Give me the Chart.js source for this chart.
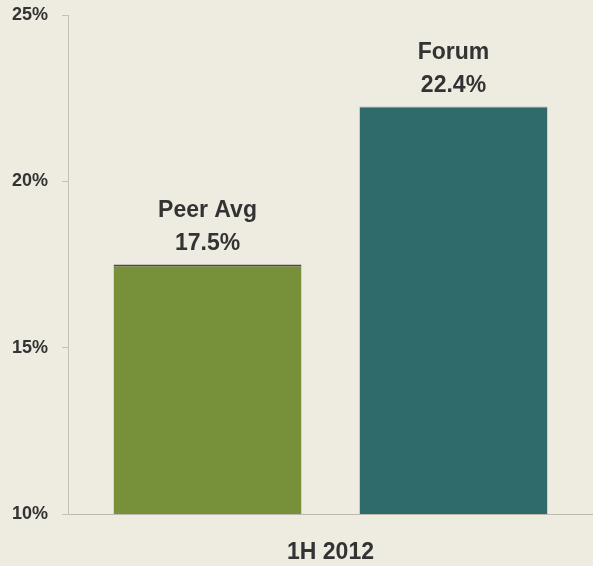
<!DOCTYPE html>
<html>
<head>
<meta charset="utf-8">
<script src="https://cdn.jsdelivr.net/npm/chart.js@4"></script>
<style>
  html, body { margin: 0; padding: 0; background: #eeebe1; }
  canvas { display: block; }
</style>
</head>
<body>
<canvas id="myChart" width="593" height="566"></canvas>
<script>
const categories = ['1H 2012'];
const seriesNames = ['Peer Avg', 'Forum'];
// bar heights as drawn in the picture (the Forum bar sits a bit below its printed label)
const peerValues = [17.5];
const forumValues = [22.25];
// printed value labels
const valueLabels = ['17.5%', '22.4%'];
const yTicks = [10, 15, 20, 25];

const FONT = '"Liberation Sans", Arial, Helvetica, sans-serif';

// labels above each bar: name and value
const barLabels = {
    id: 'barLabels',
    afterDatasetsDraw(chart) {
        const ctx = chart.ctx;
        ctx.save();
        ctx.fillStyle = '#333333';
        ctx.font = 'bold 23px ' + FONT;
        ctx.textAlign = 'center';
        ctx.textBaseline = 'middle';
        chart.data.datasets.forEach((ds, i) => {
            const meta = chart.getDatasetMeta(i);
            meta.data.forEach((bar) => {
                ctx.fillText(ds.label, bar.x, bar.y - 54);
                ctx.fillText(valueLabels[i], bar.x, bar.y - 21);
            });
        });
        ctx.restore();
    }
};

const ctx = document.getElementById('myChart').getContext('2d');
const myChart = new Chart(ctx, {
    type: 'bar',
    data: {
        labels: categories,
        datasets: [{
            label: seriesNames[0],
            data: peerValues,
            backgroundColor: '#77903a',
            borderColor: '#4b4b40',
            borderWidth: { top: 2, left: 0, right: 0, bottom: 0 },
            borderSkipped: false
        }, {
            label: seriesNames[1],
            data: forumValues,
            backgroundColor: '#2f6b6a',
            borderColor: '#9aa8a3',
            borderWidth: { top: 1, left: 0, right: 0, bottom: 0 },
            borderSkipped: false
        }]
    },
    options: {
        responsive: false,
        animation: false,
        layout: { padding: { top: 15, right: 0, left: 0, bottom: 0 } },
        datasets: {
            bar: { categoryPercentage: 0.937, barPercentage: 0.764 }
        },
        plugins: {
            legend: { display: false },
            tooltip: { enabled: false }
        },
        scales: {
            x: {
                grid: { drawOnChartArea: false, drawTicks: false },
                border: { color: '#bdb9ae', width: 1 },
                ticks: {
                    color: '#333333',
                    font: { family: FONT, size: 23, weight: 'bold' },
                    padding: 25
                },
                afterFit(scale) { scale.height = 52; }
            },
            y: {
                min: 10,
                max: 25,
                afterBuildTicks(scale) {
                    scale.ticks = yTicks.map(v => ({ value: v }));
                },
                grid: { drawOnChartArea: false, drawTicks: true, tickLength: 6, color: '#c4c0b6' },
                border: { color: '#c4c0b6', width: 1 },
                ticks: {
                    color: '#333333',
                    font: { family: FONT, size: 18, weight: 'bold' },
                    padding: 14,
                    callback: v => v + '%'
                },
                afterFit(scale) {
                    scale.width = 68;
                    scale.paddingTop = 0;
                    scale.paddingBottom = 0;
                }
            }
        }
    },
    plugins: [barLabels]
});
</script>
</body>
</html>
